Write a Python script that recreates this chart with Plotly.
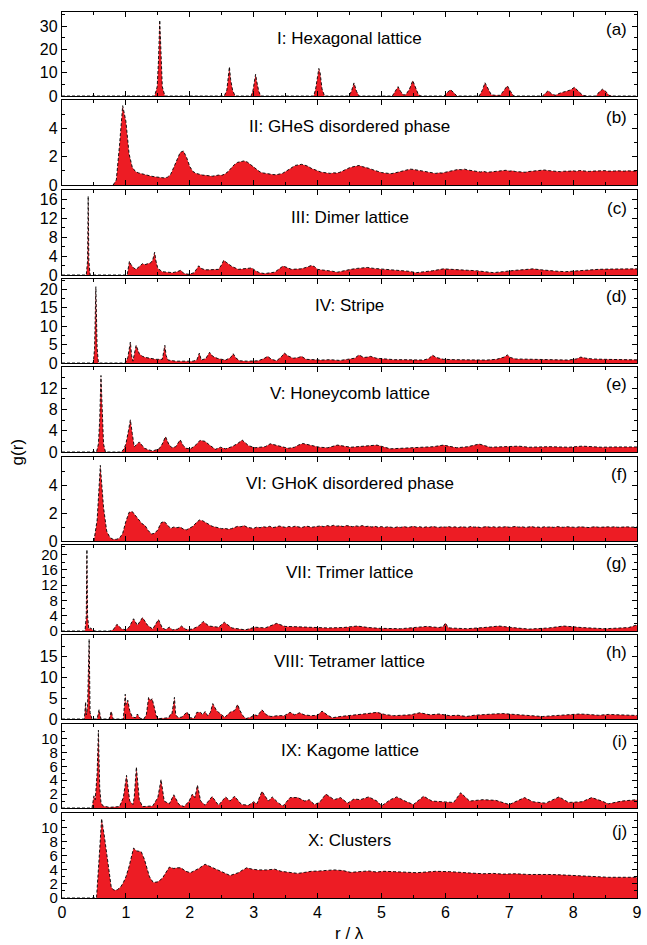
import plotly.graph_objects as go

# ---------------- data ----------------
# (a) Hexagonal lattice
R_A = [0, 1.45, 1.49, 1.51, 1.53, 1.55, 1.57, 1.61, 2.54, 2.58, 2.60, 2.62, 2.64, 2.67, 2.71, 2.96, 2.99, 3.01, 3.03, 3.05, 3.08, 3.11,
       3.94, 3.97, 4.00, 4.02, 4.04, 4.07, 4.11, 4.49, 4.53, 4.57, 4.61, 4.65, 5.17, 5.22, 5.26, 5.30, 5.34, 5.38, 5.44, 5.49, 5.53, 5.58, 5.62,
       5.98, 6.03, 6.08, 6.13, 6.18, 6.53, 6.58, 6.62, 6.67, 6.72, 6.78, 6.86, 6.92, 6.97, 7.02, 7.07,
       7.52, 7.57, 7.61, 7.66, 7.72, 7.80, 7.88, 7.95, 8.02, 8.08, 8.15, 8.22, 8.36, 8.41, 8.46, 8.51, 8.56, 8.62, 9.0]
G_A = [0, 0, 4, 15, 32.5, 15, 4, 0, 0, 2.5, 7, 12.5, 7, 2.5, 0, 0, 2.5, 6, 9.3, 6, 2, 0,
       0, 3, 9, 11.8, 10, 3, 0, 0, 2, 5.6, 2, 0, 0, 2, 4.0, 2, 0.5, 0.5, 3, 6.6, 4, 0.5, 0,
       0, 1.5, 2.7, 1.5, 0, 0, 2.5, 5.7, 3, 0.5, 0.3, 0.3, 2.5, 4.4, 2, 0,
       0, 1.2, 2.3, 1, 0.3, 1.3, 1.8, 2.5, 3.7, 2, 0.3, 0, 0, 1.8, 2.9, 2.0, 0.3, 0, 0]

# (b) GHeS disordered phase, sampled every 0.05 from r = 0.80
R_B_START, R_B_STEP = 0.80, 0.05
G_B = [0, 0.35, 2.8, 5.6, 4.5, 2.2, 1.25, 0.95, 0.85, 0.78, 0.72, 0.66, 0.62, 0.58, 0.56, 0.52, 0.50, 0.55, 0.75, 1.25,
       1.85, 2.3, 2.4, 1.95, 1.3, 0.95, 0.82, 0.75, 0.70, 0.68, 0.66, 0.62, 0.66, 0.70, 0.68, 0.78, 0.95, 1.2, 1.45, 1.6,
       1.65, 1.7, 1.62, 1.45, 1.25, 1.05, 0.92, 0.85, 0.80, 0.78, 0.74, 0.72, 0.76, 0.82, 0.95, 1.1, 1.25, 1.38, 1.42, 1.46,
       1.40, 1.32, 1.18, 1.08, 0.98, 0.92, 0.88, 0.84, 0.82, 0.86, 0.84, 0.90, 1.0, 1.15, 1.22, 1.28, 1.32, 1.38, 1.30, 1.26,
       1.18, 1.10, 1.02, 0.94, 0.88, 0.85, 0.82, 0.80, 0.84, 0.90, 0.98, 1.05, 1.08, 1.12, 1.10, 1.06, 1.02, 0.95, 0.90, 0.86,
       0.84, 0.82, 0.86, 0.84, 0.90, 0.96, 1.02, 1.06, 1.10, 1.08, 1.12, 1.06, 1.02, 0.98, 0.94, 0.92, 0.96, 0.90, 0.92, 0.95,
       0.98, 1.02, 1.0, 1.04, 0.98, 1.0, 0.95, 0.92, 0.94, 0.90, 0.95, 0.98, 1.02, 1.05, 1.03, 1.06, 1.02, 1.0, 0.96, 0.98,
       0.94, 0.97, 0.95, 0.98, 1.0, 0.97, 1.02, 0.99, 1.0, 0.96, 0.98, 1.0, 0.97, 0.99, 1.01, 0.98, 0.96, 0.99, 1.0, 0.97,
       0.98, 1.0, 0.97, 0.98, 0.99]

# (c) Dimer lattice
R_C = [0, 0.38, 0.40, 0.41, 0.42, 0.44, 1.02, 1.04, 1.055, 1.08, 1.12, 1.16, 1.21, 1.26, 1.30, 1.35, 1.39, 1.42, 1.45, 1.47,
       1.50, 1.57, 1.65, 1.73, 1.80, 1.86, 1.91, 1.99, 2.07, 2.11, 2.14, 2.18, 2.24, 2.30, 2.38, 2.45, 2.50, 2.53, 2.58, 2.66,
       2.76, 2.84, 2.92, 2.97, 3.03, 3.09, 3.17, 3.25, 3.33, 3.40, 3.46, 3.52, 3.59, 3.66, 3.74, 3.82, 3.90, 3.95, 4.00, 4.08,
       4.15, 4.23, 4.31, 4.40, 4.52, 4.62, 4.70, 4.78, 4.88, 4.96, 5.04, 5.15, 5.30, 5.42, 5.55, 5.65, 5.80, 5.97, 6.10, 6.23,
       6.35, 6.49, 6.62, 6.75, 6.90, 7.00, 7.10, 7.20, 7.37, 7.50, 7.62, 7.75, 7.88, 8.05, 8.24, 8.40, 8.55, 8.75, 8.97, 9.0]
G_C = [0, 0, 3, 16.7, 3, 0, 0, 2.0, 2.9, 2.2, 1.5, 1.2, 1.8, 2.4, 2.2, 2.5, 2.6, 3.2, 4.8, 3.0,
       1.4, 0.7, 0.6, 0.5, 0.7, 1.0, 0.3, 0.15, 0.5, 1.4, 1.95, 1.4, 1.1, 1.1, 1.15, 1.2, 2.2, 3.1, 2.6, 1.8,
       1.2, 1.3, 1.35, 1.5, 0.9, 0.5, 0.3, 0.4, 0.6, 1.3, 1.9, 1.6, 1.2, 1.25, 1.3, 1.6, 2.0, 1.8, 1.2, 1.05,
       1.0, 0.8, 0.6, 0.9, 1.2, 1.4, 1.55, 1.6, 1.4, 1.3, 1.2, 1.1, 1.0, 0.8, 0.5, 0.6, 0.9, 1.3, 1.25, 1.2,
       1.0, 0.9, 0.7, 0.5, 0.7, 0.9, 1.0, 1.1, 1.3, 1.1, 0.9, 0.8, 0.7, 0.9, 1.1, 1.2, 1.25, 1.2, 1.3, 1.3]

# (d) Stripe
R_D = [0, 0.49, 0.51, 0.53, 0.55, 0.57, 0.99, 1.03, 1.07, 1.09, 1.11, 1.13, 1.16, 1.21, 1.26, 1.31, 1.39, 1.47, 1.57, 1.59,
       1.61, 1.63, 1.66, 1.78, 1.93, 2.05, 2.11, 2.15, 2.18, 2.25, 2.31, 2.36, 2.44, 2.56, 2.64, 2.68, 2.72, 2.78, 2.90, 3.07,
       3.16, 3.22, 3.28, 3.36, 3.44, 3.48, 3.54, 3.62, 3.70, 3.75, 3.82, 3.92, 4.05, 4.20, 4.35, 4.47, 4.58, 4.65, 4.72, 4.78,
       4.83, 4.92, 5.05, 5.20, 5.35, 5.50, 5.66, 5.74, 5.80, 5.86, 5.97, 6.15, 6.33, 6.50, 6.65, 6.80, 6.92, 6.97, 7.02, 7.10,
       7.30, 7.52, 7.72, 7.93, 8.05, 8.12, 8.20, 8.30, 8.48, 8.66, 8.82, 9.0]
G_D = [0, 0, 4, 20.7, 4, 0, 0, 1.5, 5.7, 2.0, 0.5, 2.5, 4.8, 2.5, 1.8, 1.5, 1.2, 1.0, 1.0, 2.8,
       4.8, 2.0, 0.8, 0.5, 0.4, 0.5, 0.8, 2.7, 0.8, 1.2, 2.9, 1.8, 1.2, 0.8, 1.5, 2.5, 1.4, 0.6, 0.5, 0.6,
       1.2, 1.8, 1.0, 0.6, 1.8, 2.7, 1.9, 1.3, 1.5, 1.8, 1.0, 0.9, 0.8, 0.9, 0.7, 1.0, 1.3, 2.2, 1.5, 1.6,
       1.8, 1.3, 1.1, 0.9, 0.9, 0.8, 0.8, 1.2, 2.1, 1.5, 1.0, 0.9, 0.9, 0.7, 0.8, 1.0, 1.6, 2.2, 1.5, 1.1,
       1.0, 0.9, 0.9, 0.8, 1.1, 1.6, 1.3, 1.1, 1.0, 0.9, 0.85, 0.85]

# (e) Honeycomb lattice
R_E = [0, 0.54, 0.57, 0.59, 0.61, 0.63, 0.65, 0.68, 0.93, 0.97, 1.00, 1.04, 1.07, 1.10, 1.13, 1.17, 1.21, 1.25, 1.29, 1.36,
       1.42, 1.52, 1.57, 1.62, 1.67, 1.72, 1.78, 1.85, 1.90, 1.94, 2.01, 2.06, 2.11, 2.16, 2.24, 2.30, 2.35, 2.40, 2.48, 2.56,
       2.66, 2.75, 2.82, 2.92, 3.02, 3.18, 3.26, 3.39, 3.54, 3.64, 3.70, 3.77, 3.90, 4.03, 4.16, 4.31, 4.52, 4.70, 4.93, 5.14,
       5.30, 5.45, 5.60, 5.81, 5.97, 6.18, 6.35, 6.53, 6.70, 6.85, 7.00, 7.15, 7.31, 7.45, 7.62, 7.78, 7.93, 8.14, 8.30, 8.45,
       8.65, 8.80, 9.0]
G_E = [0, 0, 1.5, 6, 14.4, 6, 1.5, 0, 0, 0.6, 1.5, 4, 6.06, 3.5, 1.0, 1.4, 1.9, 1.3, 0.7, 0.4,
       0.2, 0.6, 1.5, 2.9, 1.5, 0.8, 1.0, 2.3, 1.2, 0.7, 0.6, 1.0, 1.5, 2.2, 2.0, 1.4, 1.0, 0.5, 0.9, 0.6,
       1.0, 1.6, 2.25, 1.2, 0.8, 1.0, 1.55, 1.2, 0.7, 0.9, 1.3, 1.6, 1.3, 0.9, 0.8, 1.3, 0.9, 1.1, 1.3, 0.6,
       0.7, 0.8, 0.9, 1.0, 1.3, 0.8, 1.0, 1.5, 0.9, 1.0, 1.0, 1.1, 0.9, 1.0, 1.0, 0.95, 0.9, 1.1, 1.0, 0.9,
       0.95, 1.0, 0.95]

# (f) GHoK disordered phase, sampled every 0.05 from r = 0.50
R_F_START, R_F_STEP = 0.50, 0.05
G_F = [0, 1.5, 5.4, 2.4, 0.7, 0.25, 0.12, 0.12, 0.2, 0.55,
       1.4, 2.05, 2.1, 1.8, 1.5, 1.25, 1.1, 0.75, 0.5, 0.55,
       0.8, 1.3, 1.4, 1.15, 0.9, 1.0, 0.95, 1.0, 0.85, 0.8,
       0.9, 1.05, 1.3, 1.5, 1.45, 1.3, 1.2, 1.05, 1.0, 0.92,
       0.88, 0.9, 0.85, 0.88, 0.95, 1.05, 1.02, 1.1, 0.98, 0.95,
       0.9, 1.0,
       0.95, 1.02, 0.98, 1.05, 0.96, 1.0, 1.07, 1.02, 0.97, 1.04, 0.99, 1.06, 1.01, 0.96, 1.03, 1.05, 0.98, 1.0, 1.04,
       1.08, 1.02, 1.1, 1.05, 1.12, 1.06, 1.09, 1.03, 1.1, 1.07, 1.02, 1.08, 1.04, 1.1, 1.03, 1.06, 1.0, 1.05, 0.98, 1.03,
       0.97, 1.02, 0.99, 0.95, 1.01, 0.97, 1.03, 0.98, 1.0, 1.05, 0.99, 1.02, 0.96, 1.01, 0.98, 1.04, 1.0, 0.97, 1.02, 0.99,
       1.03, 0.98, 1.01, 0.96, 1.02, 1.0, 0.97, 1.04, 0.99, 1.01, 0.96, 1.0, 1.03, 0.98, 1.02, 0.97, 1.01, 0.99, 1.03, 0.98,
       1.0, 1.04, 0.99, 1.02, 0.97, 1.01, 1.03, 0.98, 1.0, 0.96, 1.02, 0.99, 1.01, 0.97, 1.03, 1.0, 0.98, 1.02, 0.99, 1.01,
       0.97, 1.02, 0.99, 1.01, 0.96, 1.0, 1.02, 0.98, 1.0, 0.97, 1.01, 0.99, 1.02, 0.98, 1.0, 0.97, 1.01, 0.99, 0.98, 1.0]

# (g) Trimer lattice
R_G = [0, 0.36, 0.38, 0.39, 0.40, 0.42, 0.45, 0.48, 0.52, 0.75, 0.80, 0.86, 0.93, 1.00, 1.05, 1.12, 1.18, 1.26, 1.34, 1.42,
       1.51, 1.57, 1.62, 1.68, 1.73, 1.81, 1.87, 1.94, 2.04, 2.14, 2.21, 2.30, 2.45, 2.54, 2.66, 2.76, 2.87, 3.02, 3.18, 3.36,
       3.49, 3.69, 3.90, 4.16, 4.40, 4.62, 4.80, 4.98, 5.30, 5.50, 5.71, 5.90, 5.97, 6.00, 6.04, 6.07, 6.33, 6.60, 6.84, 7.05,
       7.31, 7.62, 7.85, 8.14, 8.50, 8.87, 8.95, 9.0]
G_G = [0, 0, 4, 21.3, 4, 0.5, 0.8, 0.2, 0, 0, 0.3, 1.75, 0.6, 0.3, 1.0, 3.2, 1.5, 3.5, 1.5, 0.5,
       3.0, 0.8, 0.4, 1.0, 0.3, 0.5, 1.3, 0.4, 0.5, 1.3, 2.5, 1.3, 1.0, 2.3, 0.8, 0.5, 0.3, 1.0, 0.8, 2.0,
       1.2, 1.1, 0.9, 0.8, 0.9, 1.3, 0.9, 0.7, 0.6, 0.8, 1.2, 0.9, 1.2, 2.1, 1.0, 0.8, 0.6, 0.9, 1.3, 0.9,
       0.5, 0.8, 1.3, 0.9, 0.6, 0.9, 1.3, 1.6]

# (h) Tetramer lattice
R_H = [0, 0.35, 0.37, 0.38, 0.40, 0.425, 0.44, 0.47, 0.55, 0.58, 0.61, 0.74, 0.77, 0.80, 0.96, 0.99, 1.00, 1.03, 1.06, 1.10,
       1.15, 1.18, 1.22, 1.28, 1.32, 1.355, 1.39, 1.41, 1.45, 1.48, 1.52, 1.67, 1.70, 1.72, 1.76, 1.78, 1.82, 1.88, 1.91, 1.96,
       2.00, 2.07, 2.11, 2.17, 2.20, 2.24, 2.28, 2.32, 2.36, 2.42, 2.50, 2.55, 2.60, 2.65, 2.70, 2.75, 2.78, 2.83, 2.88, 2.96,
       3.01, 3.06, 3.13, 3.20, 3.27, 3.38, 3.48, 3.57, 3.64, 3.72, 3.79, 3.90, 4.00, 4.07, 4.15, 4.23, 4.35, 4.50, 4.65, 4.78,
       4.93, 5.05, 5.19, 5.30, 5.45, 5.60, 5.76, 5.90, 6.07, 6.20, 6.33, 6.45, 6.59, 6.75, 6.90, 7.05, 7.20, 7.35, 7.52, 7.70,
       7.93, 8.10, 8.24, 8.40, 8.55, 8.75, 8.97, 9.0]
G_H = [0, 0, 4.1, 1.0, 3, 19.2, 1.5, 0, 0, 2.25, 0, 0, 1.85, 0, 0, 5.95, 3.5, 4.5, 2.0, 0.5,
       0.3, 1.2, 0.2, 0, 1.0, 5.15, 4.5, 4.9, 2.5, 0.5, 0.1, 0.3, 1.2, 1.2, 5.2, 1.0, 0.3, 0.5, 1.0, 1.7,
       0.3, 0.2, 1.6, 1.6, 1.0, 1.8, 0.8, 1.5, 3.7, 2.0, 1.0, 0.4, 1.2, 1.8, 2.0, 3.5, 2.2, 0.8, 0.1, 0.5,
       1.0, 0.8, 2.2, 1.0, 0.6, 0.8, 0.8, 1.6, 1.0, 1.5, 1.0, 0.8, 0.9, 1.9, 1.0, 0.3, 0.6, 0.8, 1.0, 1.3,
       1.6, 1.1, 0.8, 0.9, 1.0, 1.5, 1.0, 1.2, 0.8, 0.9, 0.6, 0.9, 1.1, 1.2, 1.3, 1.1, 0.9, 0.8, 0.6, 0.8,
       1.0, 1.2, 1.1, 0.9, 1.1, 1.0, 0.8, 0.85]

# (i) Kagome lattice
R_I = [0, 0.47, 0.50, 0.52, 0.55, 0.57, 0.59, 0.61, 0.64, 0.74, 0.90, 0.96, 1.01, 1.06, 1.11, 1.13, 1.164, 1.21, 1.26, 1.42,
       1.50, 1.55, 1.60, 1.68, 1.75, 1.83, 1.91, 1.99, 2.04, 2.08, 2.12, 2.17, 2.24, 2.35, 2.45, 2.56, 2.63, 2.70, 2.81, 2.92,
       3.00, 3.05, 3.13, 3.23, 3.29, 3.39, 3.46, 3.57, 3.69, 3.80, 3.87, 3.95, 4.03, 4.13, 4.26, 4.36, 4.47, 4.57, 4.67, 4.80,
       4.93, 5.00, 5.14, 5.24, 5.37, 5.50, 5.66, 5.79, 5.95, 6.13, 6.24, 6.38, 6.59, 6.79, 7.00, 7.24, 7.37, 7.57, 7.78, 7.93,
       8.14, 8.29, 8.45, 8.55, 8.76, 8.97, 9.0]
G_I = [0, 0, 1.75, 1.2, 5, 11.2, 3, 0.8, 0.3, 0.1, 0.2, 1.5, 4.7, 1.0, 0.5, 1.5, 5.9, 1.2, 0.2, 0.3,
       1.5, 4.1, 1.0, 0.6, 1.9, 0.5, 0.2, 1.0, 2.0, 1.5, 3.3, 1.0, 0.4, 1.65, 0.4, 1.6, 1.0, 1.7, 0.5, 0.4,
       0.9, 0.6, 2.4, 1.0, 1.6, 0.7, 0.3, 1.5, 1.5, 1.0, 1.2, 0.5, 0.8, 2.0, 1.2, 1.5, 0.7, 1.3, 1.2, 1.6,
       1.0, 0.3, 1.2, 1.6, 1.0, 0.5, 1.7, 1.0, 0.9, 0.8, 2.2, 1.0, 1.2, 1.1, 0.5, 1.5, 0.9, 0.7, 1.6, 0.8,
       0.9, 1.5, 1.0, 0.6, 1.0, 1.2, 1.2]

# (j) Clusters
R_J = [0, 0.54, 0.58, 0.62, 0.66, 0.70, 0.74, 0.77, 0.80, 0.83, 0.87, 0.92, 0.96, 1.00, 1.05, 1.09, 1.12, 1.17, 1.24, 1.29,
       1.33, 1.37, 1.43, 1.50, 1.57, 1.62, 1.68, 1.75, 1.80, 1.86, 1.94, 2.01, 2.08, 2.14, 2.24, 2.32, 2.40, 2.48, 2.56, 2.63,
       2.70, 2.76, 2.83, 2.89, 2.98, 3.07, 3.20, 3.33, 3.43, 3.55, 3.69, 3.80, 3.90, 4.03, 4.16, 4.26, 4.40, 4.52, 4.65, 4.80,
       4.92, 5.04, 5.20, 5.35, 5.55, 5.70, 5.85, 6.07, 6.25, 6.40, 6.59, 6.75, 6.90, 7.10, 7.30, 7.45, 7.62, 7.80, 7.95, 8.14,
       8.30, 8.45, 8.55, 8.70, 8.85, 9.0]
G_J = [0, 0, 5.5, 11.3, 9.0, 6.0, 3.2, 1.6, 1.2, 1.1, 1.2, 1.6, 2.2, 3.0, 4.5, 6.0, 7.1, 6.7, 6.6, 5.5,
       4.2, 3.0, 2.2, 2.3, 2.8, 3.6, 4.4, 4.2, 4.3, 4.3, 3.8, 3.6, 3.9, 4.2, 4.8, 4.5, 4.2, 3.8, 3.5, 3.2,
       3.4, 3.6, 4.0, 4.3, 4.1, 4.0, 4.0, 4.1, 3.8, 3.7, 3.5, 3.65, 3.8, 3.85, 3.9, 4.0, 3.9, 3.65, 3.75, 3.85,
       3.7, 3.8, 3.75, 3.65, 3.6, 3.7, 3.8, 3.75, 3.6, 3.55, 3.45, 3.5, 3.4, 3.45, 3.35, 3.4, 3.35, 3.3, 3.25, 3.2,
       3.15, 3.0, 2.95, 2.95, 2.9, 2.95]

R_B = [round(R_B_START + R_B_STEP * k, 3) for k in range(len(G_B))]
R_F = [round(R_F_START + R_F_STEP * k, 3) for k in range(len(G_F))]

TITLES = ["I: Hexagonal lattice", "II: GHeS disordered phase", "III: Dimer lattice", "IV: Stripe",
          "V: Honeycomb lattice", "VI: GHoK disordered phase", "VII: Trimer lattice", "VIII: Tetramer lattice",
          "IX: Kagome lattice", "X: Clusters"]
LETTERS = ["(a)", "(b)", "(c)", "(d)", "(e)", "(f)", "(g)", "(h)", "(i)", "(j)"]
SERIES = [(R_A, G_A), (R_B, G_B), (R_C, G_C), (R_D, G_D), (R_E, G_E),
          (R_F, G_F), (R_G, G_G), (R_H, G_H), (R_I, G_I), (R_J, G_J)]
Y_MAX = [36, 6, 18, 22.8, 16, 6, 22.5, 20.2, 12.1, 12.1]
Y_TICKS = [[0, 10, 20, 30], [0, 2, 4], [0, 4, 8, 12, 16], [0, 5, 10, 15, 20], [0, 4, 8, 12],
           [0, 2, 4], [0, 4, 8, 12, 16, 20], [0, 5, 10, 15], [0, 2, 4, 6, 8, 10], [0, 2, 4, 6, 8, 10]]
Y_MINOR = [5, 1, 2, 2.5, 2, 1, 2, 2.5, 1, 1]
Y_TICKFONT = [16, 16, 16, 16, 16, 16, 15, 16, 15, 15]

# ---------------- layout geometry (pixels) ----------------
W, H = 647, 945
ML, MR, MT, MB = 62, 5, 12, 47
PH = H - MT - MB
PANELS_PX = [(12, 96), (100, 185), (190, 275), (279, 363), (367, 452),
             (457, 541), (545, 631), (635, 719), (724, 808), (813, 898)]

FONT = "Liberation Sans, Arial, sans-serif"
RED = "#ED1C24"

fig = go.Figure()
layout = dict(
    width=W, height=H,
    margin=dict(l=ML, r=MR, t=MT, b=MB),
    paper_bgcolor="white", plot_bgcolor="white",
    showlegend=False,
    font=dict(family=FONT, size=16, color="black"),
)
annotations = []

for i, ((r, g), title, letter) in enumerate(zip(SERIES, TITLES, LETTERS)):
    n = i + 1
    sfx = "" if n == 1 else str(n)
    fig.add_trace(go.Scatter(
        x=r, y=g, xaxis="x" + sfx, yaxis="y" + sfx,
        mode="lines", fill="tozeroy", fillcolor=RED,
        line=dict(color="black", width=0.9, dash="3px,2px"),
        hoverinfo="skip",
    ))
    top, bot = PANELS_PX[i]
    d0 = 1 - (bot - MT) / PH
    d1 = 1 - (top - MT) / PH
    layout["xaxis" + sfx] = dict(
        domain=[0, 1], anchor="y" + sfx, range=[0, 9],
        tick0=0, dtick=1, ticks="inside", ticklen=5, tickwidth=1, tickcolor="black",
        minor=dict(dtick=0.5, tick0=0, ticks="inside", ticklen=3, tickwidth=1, tickcolor="black"),
        showline=True, linecolor="black", linewidth=1.3, mirror="ticks",
        showgrid=False, zeroline=False, showticklabels=(n == 10),
        tickfont=dict(size=16),
    )
    layout["yaxis" + sfx] = dict(
        domain=[d0, d1], anchor="x" + sfx, range=[0, Y_MAX[i]],
        tickvals=Y_TICKS[i], ticks="inside", ticklen=5, tickwidth=1, tickcolor="black",
        minor=dict(dtick=Y_MINOR[i], tick0=0, ticks="inside", ticklen=3, tickwidth=1, tickcolor="black"),
        showline=True, linecolor="black", linewidth=1.3, mirror="ticks",
        showgrid=False, zeroline=False, tickfont=dict(size=Y_TICKFONT[i]),
    )
    annotations.append(dict(
        text=title, xref="paper", x=0.5, yref="y%s domain" % sfx, y=1 - 27 / 85,
        xanchor="center", yanchor="middle", showarrow=False, font=dict(size=17),
    ))
    annotations.append(dict(
        text=letter, xref="paper", x=(634 - ML) / (W - ML - MR), yref="y%s domain" % sfx, y=1 - 18 / 85,
        xanchor="right", yanchor="middle", showarrow=False, font=dict(size=17),
    ))

annotations.append(dict(
    text="g(r)", textangle=-90, xref="paper", x=(18 - ML) / (W - ML - MR), yref="paper",
    y=1 - (452 - MT) / PH, xanchor="center", yanchor="middle", showarrow=False, font=dict(size=17),
))
annotations.append(dict(
    text="r / λ", xref="paper", x=0.5, yref="paper", y=-(933 - (H - MB)) / PH,
    xanchor="center", yanchor="middle", showarrow=False, font=dict(size=17),
))
layout["annotations"] = annotations
fig.update_layout(**layout)
fig.write_html("out.html")
